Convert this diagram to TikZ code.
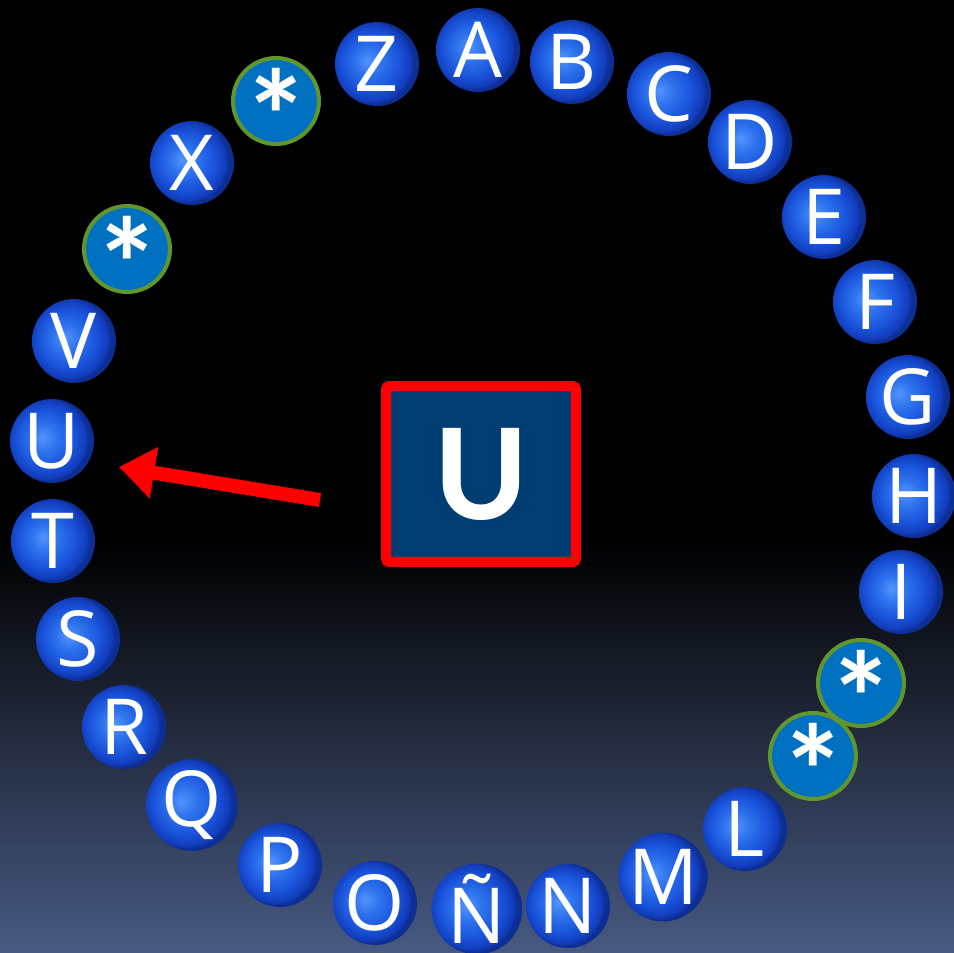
\documentclass[tikz,border=0pt]{standalone}
\usepackage{fontspec}
\newfontfamily\ballfont{Open Sans}
\newfontfamily\keyfont{Carlito}
\usetikzlibrary{arrows.meta}

\definecolor{ballrim}{RGB}{98,150,45}
\definecolor{starfill}{RGB}{0,112,192}
\definecolor{keyfill}{RGB}{0,61,115}
\definecolor{bgbottom}{RGB}{72,90,130}

\pgfdeclareradialshading{sphereblue}{\pgfpoint{-6bp}{2bp}}{%
  rgb(0bp)=(0.33,0.58,1.0);
  rgb(8bp)=(0.18,0.45,0.93);
  rgb(17bp)=(0.10,0.33,0.86);
  rgb(23bp)=(0.07,0.24,0.74);
  rgb(25bp)=(0.05,0.18,0.58);
  rgb(50bp)=(0.05,0.18,0.58)}

\newcommand{\starmark}{\smash{\raisebox{-35pt}{*}}}

\tikzset{
  ball/.style={circle,shade,shading=sphereblue,minimum size=1.68cm,inner sep=0pt,
    text=white,font=\ballfont\fontsize{44}{44}\selectfont},
  starball/.style={circle,fill=starfill,draw=ballrim,line width=0.08cm,minimum size=1.72cm,
    inner sep=0pt,text=white,font=\keyfont\bfseries\fontsize{75}{75}\selectfont},
  keybox/.style={rectangle,draw=red,line width=0.2cm,fill=keyfill,rounded corners=2pt,
    minimum width=3.8cm,minimum height=3.52cm,inner sep=0pt,text=white,
    font=\keyfont\bfseries\fontsize{80}{80}\selectfont},
  pointer/.style={red,line width=0.28cm,-{Triangle[length=0.71cm,width=1cm]}}
}

\begin{document}
\begin{tikzpicture}[x=0.02cm,y=-0.02cm]

\useasboundingbox (0,0) rectangle (954,953);
\fill[black] (0,0) rectangle (954,953);
\shade[top color=black,bottom color=bgbottom] (0,540) rectangle (954,953);

% letters round the ring
\node[ball] (A) at (478,50) {A};
\node[ball] (B) at (572,62) {B};
\node[ball] (C) at (669,94) {C};
\node[ball] (D) at (750,142) {D};
\node[ball] (E) at (824,217) {E};
\node[ball] (F) at (875,302) {F};
\node[ball] (G) at (908,397) {G};
\node[ball] (H) at (914,496) {H};
\node[ball] (I) at (901,592) {I};
\node[starball] (star3) at (861,683) {\starmark};
\node[starball] (star4) at (813,756) {\starmark};
\node[ball] (L) at (745,829) {L};
\node[ball] (M) at (663,877) {M};
\node[ball] (N) at (568,906) {N};
\node[ball] (Ntilde) at (477,909) {Ñ};
\node[ball] (O) at (375,903) {O};
\node[ball] (P) at (280,865) {P};
\node[ball] (Q) at (192,805) {Q};
\node[ball] (R) at (124,727) {R};
\node[ball] (S) at (78,639) {S};
\node[ball] (T) at (53,541) {T};
\node[ball] (U) at (52,441) {U};
\node[ball] (V) at (74,341) {V};
\node[starball] (star2) at (127,249) {\starmark};
\node[ball] (X) at (192,163) {X};
\node[starball] (star1) at (276,101) {\starmark};
\node[ball] (Z) at (377,64) {Z};

% key letter and pointer
\node[keybox] (key) at (481,474) {U};
\coordinate (tail) at (320,500);
\coordinate (tip) at (119,467);
\draw[pointer] (tail) -- (tip);

\end{tikzpicture}
\end{document}
